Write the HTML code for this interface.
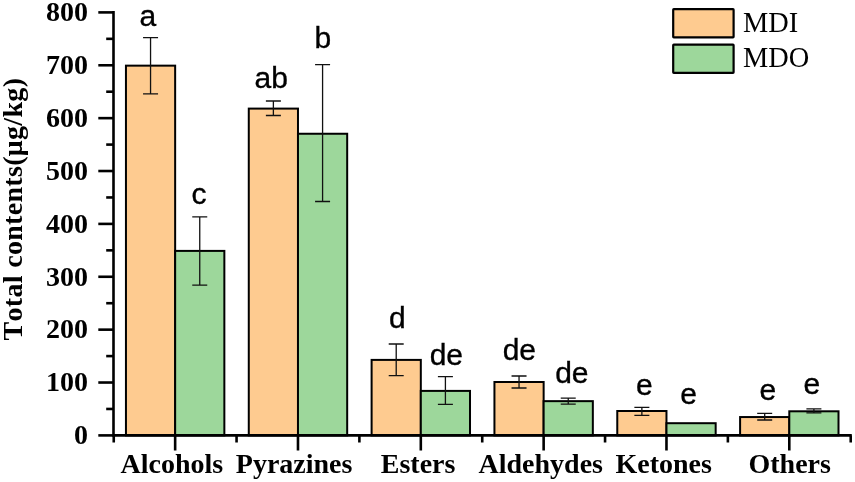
<!DOCTYPE html><html><head><meta charset="utf-8"><title>Total contents chart</title><style>html,body{margin:0;padding:0;background:#fff;overflow:hidden;}svg{display:block;}</style></head><body>
<svg width="855" height="482" viewBox="0 0 855 482">
<rect width="855" height="482" fill="#fff"/>
<rect x="125.95" y="65.65" width="49.20" height="369.75" fill="#FECB90" stroke="#000" stroke-width="2"/>
<rect x="175.15" y="250.90" width="49.20" height="184.50" fill="#9DD79B" stroke="#000" stroke-width="2"/>
<rect x="248.78" y="108.60" width="49.20" height="326.80" fill="#FECB90" stroke="#000" stroke-width="2"/>
<rect x="297.98" y="133.75" width="49.20" height="301.65" fill="#9DD79B" stroke="#000" stroke-width="2"/>
<rect x="371.61" y="359.90" width="49.20" height="75.50" fill="#FECB90" stroke="#000" stroke-width="2"/>
<rect x="420.81" y="390.90" width="49.20" height="44.50" fill="#9DD79B" stroke="#000" stroke-width="2"/>
<rect x="494.44" y="382.00" width="49.20" height="53.40" fill="#FECB90" stroke="#000" stroke-width="2"/>
<rect x="543.64" y="401.15" width="49.20" height="34.25" fill="#9DD79B" stroke="#000" stroke-width="2"/>
<rect x="617.27" y="411.00" width="49.20" height="24.40" fill="#FECB90" stroke="#000" stroke-width="2"/>
<rect x="666.47" y="423.20" width="49.20" height="12.20" fill="#9DD79B" stroke="#000" stroke-width="2"/>
<rect x="740.10" y="417.05" width="49.20" height="18.35" fill="#FECB90" stroke="#000" stroke-width="2"/>
<rect x="789.30" y="411.30" width="49.20" height="24.10" fill="#9DD79B" stroke="#000" stroke-width="2"/>
<path d="M150.55 37.55V93.90M143.05 37.55H158.05M143.05 93.90H158.05" stroke="#111" stroke-width="1.3" fill="none"/>
<text x="139.50" y="26.30" font-family="Liberation Sans, sans-serif" font-size="30" stroke="#000" stroke-width="0.35">a</text>
<path d="M199.75 216.90V285.20M192.25 216.90H207.25M192.25 285.20H207.25" stroke="#111" stroke-width="1.3" fill="none"/>
<text x="191.40" y="203.80" font-family="Liberation Sans, sans-serif" font-size="30" stroke="#000" stroke-width="0.35">c</text>
<path d="M273.38 101.00V115.50M265.88 101.00H280.88M265.88 115.50H280.88" stroke="#111" stroke-width="1.3" fill="none"/>
<text x="254.60" y="88.00" font-family="Liberation Sans, sans-serif" font-size="30" stroke="#000" stroke-width="0.35">ab</text>
<path d="M322.58 64.60V201.50M315.08 64.60H330.08M315.08 201.50H330.08" stroke="#111" stroke-width="1.3" fill="none"/>
<text x="314.40" y="48.20" font-family="Liberation Sans, sans-serif" font-size="30" stroke="#000" stroke-width="0.35">b</text>
<path d="M396.21 344.00V375.70M388.71 344.00H403.71M388.71 375.70H403.71" stroke="#111" stroke-width="1.3" fill="none"/>
<text x="388.90" y="328.30" font-family="Liberation Sans, sans-serif" font-size="30" stroke="#000" stroke-width="0.35">d</text>
<path d="M445.41 376.70V404.30M437.91 376.70H452.91M437.91 404.30H452.91" stroke="#111" stroke-width="1.3" fill="none"/>
<text x="429.70" y="365.00" font-family="Liberation Sans, sans-serif" font-size="30" stroke="#000" stroke-width="0.35">de</text>
<path d="M519.04 376.00V388.00M511.54 376.00H526.54M511.54 388.00H526.54" stroke="#111" stroke-width="1.3" fill="none"/>
<text x="502.70" y="360.00" font-family="Liberation Sans, sans-serif" font-size="30" stroke="#000" stroke-width="0.35">de</text>
<path d="M568.24 398.20V404.20M560.74 398.20H575.74M560.74 404.20H575.74" stroke="#111" stroke-width="1.3" fill="none"/>
<text x="555.20" y="382.50" font-family="Liberation Sans, sans-serif" font-size="30" stroke="#000" stroke-width="0.35">de</text>
<path d="M641.87 407.40V415.30M634.37 407.40H649.37M634.37 415.30H649.37" stroke="#111" stroke-width="1.3" fill="none"/>
<text x="636.00" y="395.00" font-family="Liberation Sans, sans-serif" font-size="30" stroke="#000" stroke-width="0.35">e</text>
<text x="680.30" y="403.80" font-family="Liberation Sans, sans-serif" font-size="30" stroke="#000" stroke-width="0.35">e</text>
<path d="M764.70 413.30V420.00M757.20 413.30H772.20M757.20 420.00H772.20" stroke="#111" stroke-width="1.3" fill="none"/>
<text x="759.50" y="400.00" font-family="Liberation Sans, sans-serif" font-size="30" stroke="#000" stroke-width="0.35">e</text>
<path d="M813.90 408.90V412.80M806.40 408.90H821.40M806.40 412.80H821.40" stroke="#111" stroke-width="1.3" fill="none"/>
<text x="803.40" y="393.80" font-family="Liberation Sans, sans-serif" font-size="30" stroke="#000" stroke-width="0.35">e</text>
<g stroke="#000" stroke-width="2.6" fill="none">
<path d="M113.5 11.10V435.4H851.78"/>
<path d="M98.3 435.40H113.5"/>
<path d="M98.3 382.52H113.5"/>
<path d="M98.3 329.65H113.5"/>
<path d="M98.3 276.77H113.5"/>
<path d="M98.3 223.90H113.5"/>
<path d="M98.3 171.02H113.5"/>
<path d="M98.3 118.15H113.5"/>
<path d="M98.3 65.27H113.5"/>
<path d="M98.3 12.40H113.5"/>
<path d="M106.2 408.96H113.5"/>
<path d="M106.2 356.09H113.5"/>
<path d="M106.2 303.21H113.5"/>
<path d="M106.2 250.34H113.5"/>
<path d="M106.2 197.46H113.5"/>
<path d="M106.2 144.59H113.5"/>
<path d="M106.2 91.71H113.5"/>
<path d="M106.2 38.84H113.5"/>
<path d="M113.74 435.4V442.5"/>
<path d="M236.56 435.4V442.5"/>
<path d="M359.39 435.4V442.5"/>
<path d="M482.23 435.4V442.5"/>
<path d="M605.06 435.4V442.5"/>
<path d="M727.88 435.4V442.5"/>
<path d="M850.72 435.4V442.5"/>
<path d="M175.15 435.4V450.5"/>
<path d="M297.98 435.4V450.5"/>
<path d="M420.81 435.4V450.5"/>
<path d="M543.64 435.4V450.5"/>
<path d="M666.47 435.4V450.5"/>
<path d="M789.30 435.4V450.5"/>
</g>
<text x="88" y="444.20" font-family="Liberation Serif, serif" style="font-kerning:none" font-weight="bold" font-size="28" text-anchor="end">0</text>
<text x="88" y="391.32" font-family="Liberation Serif, serif" style="font-kerning:none" font-weight="bold" font-size="28" text-anchor="end">100</text>
<text x="88" y="338.45" font-family="Liberation Serif, serif" style="font-kerning:none" font-weight="bold" font-size="28" text-anchor="end">200</text>
<text x="88" y="285.57" font-family="Liberation Serif, serif" style="font-kerning:none" font-weight="bold" font-size="28" text-anchor="end">300</text>
<text x="88" y="232.70" font-family="Liberation Serif, serif" style="font-kerning:none" font-weight="bold" font-size="28" text-anchor="end">400</text>
<text x="88" y="179.82" font-family="Liberation Serif, serif" style="font-kerning:none" font-weight="bold" font-size="28" text-anchor="end">500</text>
<text x="88" y="126.95" font-family="Liberation Serif, serif" style="font-kerning:none" font-weight="bold" font-size="28" text-anchor="end">600</text>
<text x="88" y="74.07" font-family="Liberation Serif, serif" style="font-kerning:none" font-weight="bold" font-size="28" text-anchor="end">700</text>
<text x="88" y="21.20" font-family="Liberation Serif, serif" style="font-kerning:none" font-weight="bold" font-size="28" text-anchor="end">800</text>
<text x="120.50" y="473.2" font-family="Liberation Serif, serif" style="font-kerning:none" font-weight="bold" font-size="28">Alcohols</text>
<text x="235.80" y="473.2" font-family="Liberation Serif, serif" style="font-kerning:none" font-weight="bold" font-size="28">Pyrazines</text>
<text x="380.80" y="473.2" font-family="Liberation Serif, serif" style="font-kerning:none" font-weight="bold" font-size="28">Esters</text>
<text x="478.50" y="473.2" font-family="Liberation Serif, serif" style="font-kerning:none" font-weight="bold" font-size="28">Aldehydes</text>
<text x="615.50" y="473.2" font-family="Liberation Serif, serif" style="font-kerning:none" font-weight="bold" font-size="28">Ketones</text>
<text x="748.50" y="473.2" font-family="Liberation Serif, serif" style="font-kerning:none" font-weight="bold" font-size="28">Others</text>
<text transform="translate(22 340.5) rotate(-90)" font-family="Liberation Serif, serif" style="font-kerning:none" font-weight="bold" font-size="28" textLength="262.5" lengthAdjust="spacing">Total contents(μg/kg)</text>
<rect x="673.2" y="9.1" width="60.4" height="28.3" rx="0.6" fill="#FECB90" stroke="#000" stroke-width="2.2"/>
<rect x="673.2" y="44.6" width="60.4" height="28.2" rx="0.6" fill="#9DD79B" stroke="#000" stroke-width="2.2"/>
<text x="743" y="31.8" font-family="Liberation Serif, serif" style="font-kerning:none" font-size="28.4">MDI</text>
<text x="743" y="67.2" font-family="Liberation Serif, serif" style="font-kerning:none" font-size="28.4">MDO</text>
</svg></body></html>
